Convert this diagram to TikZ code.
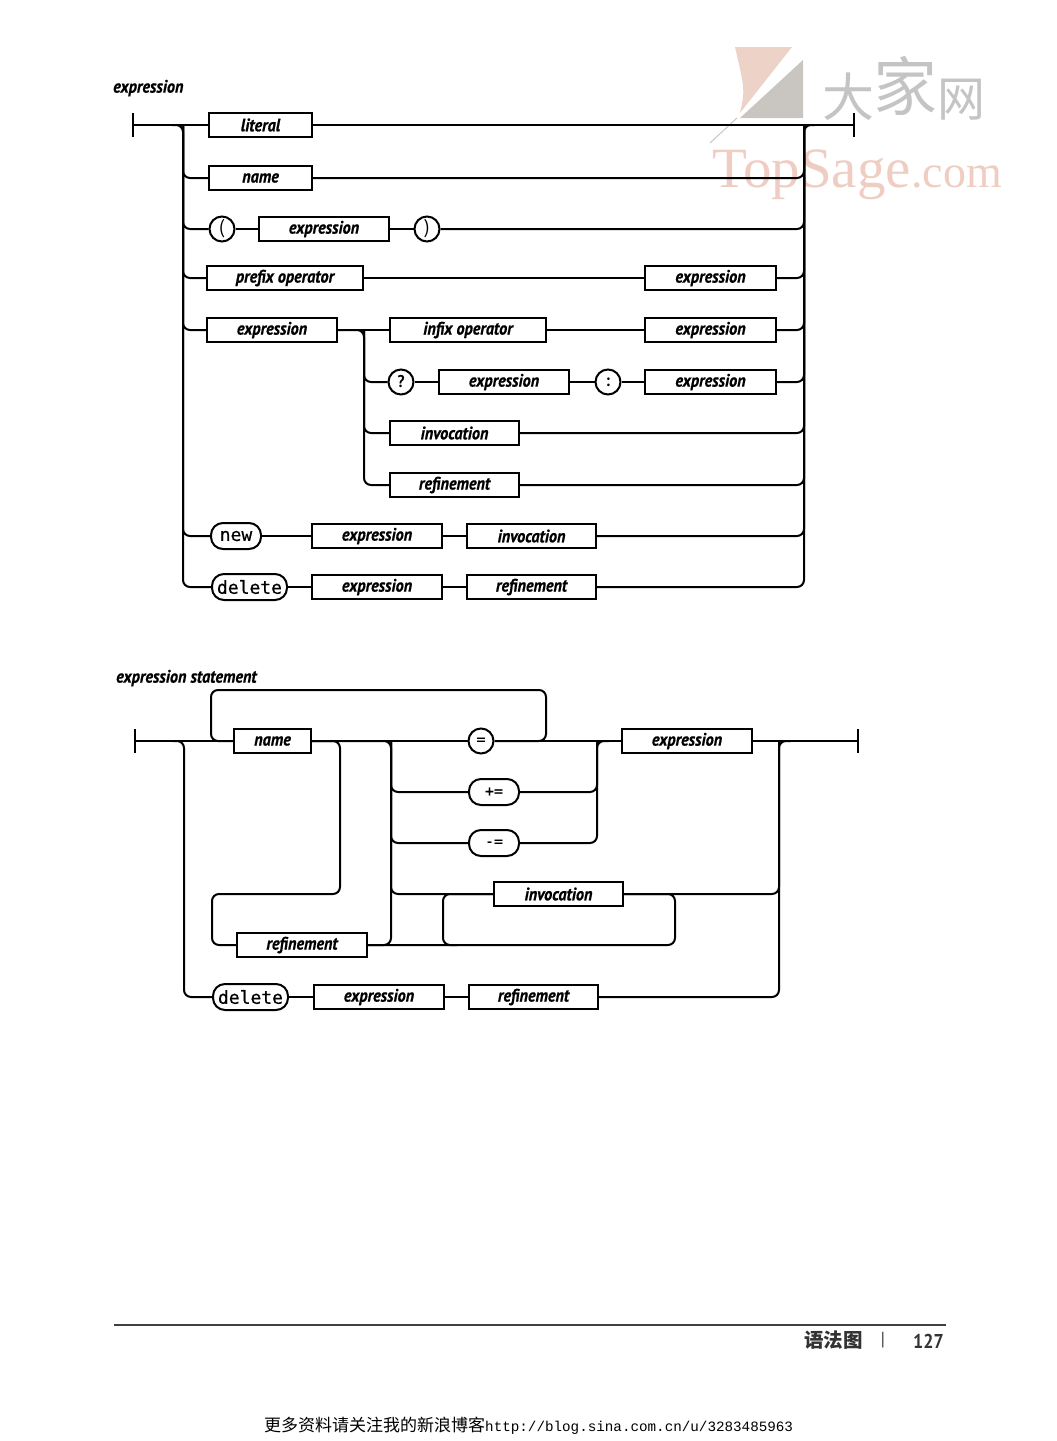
\documentclass[tikz,border=0pt]{standalone}
\usepackage{fontspec}
\setmainfont{Liberation Serif}
\newfontfamily\railfont[FakeStretch=0.9,BoldItalicFeatures={FakeBold=0.6}]{PT Sans}
\newfontfamily\kwfont[FakeBold=0.5]{DejaVu Sans Mono}
\newfontfamily\cjkfont{Noto Sans CJK SC}
\newfontfamily\urlfont{Liberation Mono}
\definecolor{wmpink}{HTML}{EDD2C8}
\definecolor{wmgray}{HTML}{C9C6C2}
\definecolor{wmtext}{HTML}{F0CDC2}
\definecolor{wmcjk}{HTML}{C4C4C4}
\tikzset{
  rule box/.style={draw,rectangle,line width=2pt,minimum height=24pt,inner sep=0pt,font=\railfont\bfseries\itshape\fontsize{18}{18}\selectfont},
  pill/.style={draw,rectangle,rounded corners=12pt,line width=2pt,minimum height=26pt,inner sep=0pt,font=\kwfont\fontsize{18}{18}\selectfont},
  term/.style={draw,circle,line width=2pt,minimum size=25pt,inner sep=0pt,font=\railfont\bfseries\fontsize{17}{17}\selectfont},
  endbar/.style={fill=black,rectangle,minimum width=2.2pt,minimum height=24pt,inner sep=0pt},
  heading/.style={anchor=west,inner sep=0pt,font=\railfont\bfseries\itshape\fontsize{18}{18}\selectfont},
  rail/.style={line width=2pt,rounded corners=7pt},
  wmchar/.style={inner sep=0pt,text=wmcjk}
}
\begin{document}
\begin{tikzpicture}[x=1pt,y=-1pt]
\useasboundingbox (0,0) rectangle (1057,1441);
% watermark
\fill[wmpink] (735,47) -- (792,47) -- (740,113) .. controls (745,90) .. (735,47);
\fill[wmgray] (803,60) -- (803,118) -- (740,118) -- cycle;
\draw[wmgray,line width=1pt] (737,118) -- (710,143);
\node[anchor=base west,inner sep=0pt,text=wmtext,font=\fontsize{57}{57}\selectfont] (wmtop) at (712,187) {TopSage};
\node[anchor=base west,inner sep=0pt,text=wmtext,font=\fontsize{46}{46}\selectfont] (wmcom) at (wmtop.base east) {.com};
\node[wmchar,font=\cjkfont\fontsize{52}{52}\selectfont] (wmda) at (848,97) {大};
\node[wmchar,font=\cjkfont\fontsize{64}{64}\selectfont] (wmjia) at (905,86) {家};
\node[wmchar,font=\cjkfont\fontsize{48}{48}\selectfont] (wmwang) at (961,100) {网};
% first diagram
\node[heading] (titleA) at (113,88) {expression};
\node[endbar] (startA) at (133,125) {};
\node[endbar] (stopA) at (854,125) {};
\coordinate (inA) at (172,125);
\coordinate (busA) at (183,125);
\coordinate (outA) at (815,125);
\coordinate (busB) at (804,125);
\node[rule box,minimum width=103pt] (literal) at (260.5,125) {literal};
\node[rule box,minimum width=103pt] (nameA) at (260.5,178) {name};
\node[term,font=\railfont\fontsize{20}{20}\selectfont] (lparen) at (222,229) {(};
\node[rule box,minimum width=130pt] (exprA) at (324,229) {expression};
\node[term,font=\railfont\fontsize{20}{20}\selectfont] (rparen) at (427,229) {)};
\node[rule box,minimum width=156pt] (prefix) at (285,278) {prefix operator};
\node[rule box,minimum width=131pt] (exprB) at (710.5,278) {expression};
\node[rule box,minimum width=130pt] (exprC) at (272,330) {expression};
\node[rule box,minimum width=156pt] (infix) at (468,330) {infix operator};
\node[rule box,minimum width=131pt] (exprD) at (710.5,330) {expression};
\coordinate (busC) at (364,330);
\node[term] (quest) at (401,382) {?};
\node[rule box,minimum width=130pt] (exprE) at (504,382) {expression};
\node[term] (colon) at (608,382) {:};
\node[rule box,minimum width=131pt] (exprF) at (710.5,382) {expression};
\node[rule box,minimum width=129pt] (invocA) at (454.5,433) {invocation};
\node[rule box,minimum width=129pt] (refinA) at (454.5,485) {refinement};
\node[pill,minimum width=50pt] (newkw) at (236,536) {new};
\node[rule box,minimum width=130pt] (exprG) at (377,536) {expression};
\node[rule box,minimum width=129pt] (invocB) at (531.5,536) {invocation};
\node[pill,minimum width=75pt] (delA) at (249.5,587) {delete};
\node[rule box,minimum width=130pt] (exprH) at (377,587) {expression};
\node[rule box,minimum width=129pt] (refinB) at (531.5,587) {refinement};
\draw[rail] (startA) -- (literal);
\draw[rail] (inA) -- (busA) |- (delA);
\draw[rail] (busA) |- (nameA);
\draw[rail] (busA) |- (lparen);
\draw[rail] (busA) |- (prefix);
\draw[rail] (busA) |- (exprC);
\draw[rail] (busA) |- (newkw);
\draw[rail] (literal) -- (stopA);
\draw[rail] (refinB) -| (busB) -- (outA);
\draw[rail] (nameA) -| (busB);
\draw[rail] (rparen) -| (busB);
\draw[rail] (exprB) -| (busB);
\draw[rail] (exprD) -| (busB);
\draw[rail] (exprF) -| (busB);
\draw[rail] (invocA) -| (busB);
\draw[rail] (refinA) -| (busB);
\draw[rail] (invocB) -| (busB);
\draw[rail] (lparen) -- (exprA);
\draw[rail] (exprA) -- (rparen);
\draw[rail] (prefix) -- (exprB);
\draw[rail] (infix) -- (exprD);
\draw[rail] (exprC) -- (infix);
\draw[rail] (exprC) -- (busC) |- (refinA);
\draw[rail] (busC) |- (quest);
\draw[rail] (busC) |- (invocA);
\draw[rail] (quest) -- (exprE);
\draw[rail] (exprE) -- (colon);
\draw[rail] (colon) -- (exprF);
\draw[rail] (newkw) -- (exprG);
\draw[rail] (exprG) -- (invocB);
\draw[rail] (delA) -- (exprH);
\draw[rail] (exprH) -- (refinB);
% second diagram
\node[heading] (titleB) at (116,678) {expression statement};
\node[endbar] (startB) at (135,741) {};
\node[endbar] (stopB) at (858,741) {};
\coordinate (inB) at (173,741);
\coordinate (busD) at (184,741);
\node[rule box,minimum width=77pt] (nameB) at (272.5,741) {name};
\node[term,font=\kwfont\fontsize{15}{15}\selectfont] (assign) at (481,741) {=};
\node[rule box,minimum width=130pt] (exprI) at (687,741) {expression};
\node[pill,minimum width=50pt,font=\kwfont\fontsize{15}{15}\selectfont] (plusa) at (494,792) {+=};
\node[pill,minimum width=50pt,font=\kwfont\fontsize{15}{15}\selectfont] (minusa) at (494,843) {-=};
\node[rule box,minimum width=129pt] (invocC) at (558.5,894) {invocation};
\node[rule box,minimum width=130pt] (refinC) at (302,945) {refinement};
\node[pill,minimum width=75pt] (delB) at (250.5,997) {delete};
\node[rule box,minimum width=130pt] (exprJ) at (379,997) {expression};
\node[rule box,minimum width=129pt] (refinD) at (533.5,997) {refinement};
\coordinate (loopa) at (211,741);
\coordinate (loopb) at (211,690);
\coordinate (loopc) at (546,690);
\coordinate (loopd) at (546,741);
\coordinate (loope) at (340,741);
\coordinate (loopf) at (340,894);
\coordinate (loopg) at (212,894);
\coordinate (looph) at (212,945);
\coordinate (busE) at (391,741);
\coordinate (busEa) at (391,945);
\coordinate (busF) at (597,741);
\coordinate (busFa) at (609,741);
\coordinate (busG) at (779,741);
\coordinate (busGa) at (791,741);
\coordinate (invl) at (443,894);
\coordinate (invlb) at (443,945);
\coordinate (invlc) at (457,945);
\coordinate (invr) at (675,894);
\coordinate (invrb) at (675,945);
\draw[rail] (startB) -- (nameB);
\draw[rail] (inB) -- (busD) |- (delB);
\draw[rail] (nameB) -- (assign);
\draw[rail] (assign) -- (exprI);
\draw[rail] (exprI) -- (stopB);
\draw[rail] (nameB) -- (loopa) -- (loopb) -- (loopc) -- (loopd) -- (assign);
\draw[rail] (nameB) -- (loope) -- (loopf) -- (loopg) -- (looph) -- (refinC);
\draw[rail] (nameB) -- (busE) -- (busEa) -- (refinC);
\draw[rail] (busE) |- (plusa);
\draw[rail] (busE) |- (minusa);
\draw[rail] (busE) |- (invocC);
\draw[rail] (plusa) -| (busF);
\draw[rail] (minusa) -| (busF) -- (busFa);
\draw[rail] (refinC) -- (invrb) -- (invr) -- (invocC);
\draw[rail] (invocC) -- (invl) -- (invlb) -- (invlc);
\draw[rail] (invocC) -| (busG);
\draw[rail] (refinD) -| (busG) -- (busGa);
\draw[rail] (delB) -- (exprJ);
\draw[rail] (exprJ) -- (refinD);
% page foot
\coordinate (footl) at (114,1325);
\coordinate (footr) at (946,1325);
\draw[black!75,line width=1.6pt] (footl) -- (footr);
\node[anchor=west,inner sep=0pt,text=black!80,font=\cjkfont\bfseries\fontsize{19.5}{19.5}\selectfont] (chapter) at (804,1340) {语法图};
\node[inner sep=0pt,text=black!80,font=\railfont\fontsize{19}{19}\selectfont] (divider) at (883,1340) {|};
\node[anchor=east,inner sep=0pt,text=black!80,font=\railfont\bfseries\fontsize{20}{20}\selectfont] (pageno) at (944,1341) {127};
\node[anchor=west,inner sep=0pt,font=\fontsize{17}{17}\selectfont] (source) at (264,1426) {\cjkfont 更多资料请关注我的新浪博客\urlfont\fontsize{14.25}{14.25}\selectfont http://blog.sina.com.cn/u/3283485963};
\end{tikzpicture}
\end{document}
